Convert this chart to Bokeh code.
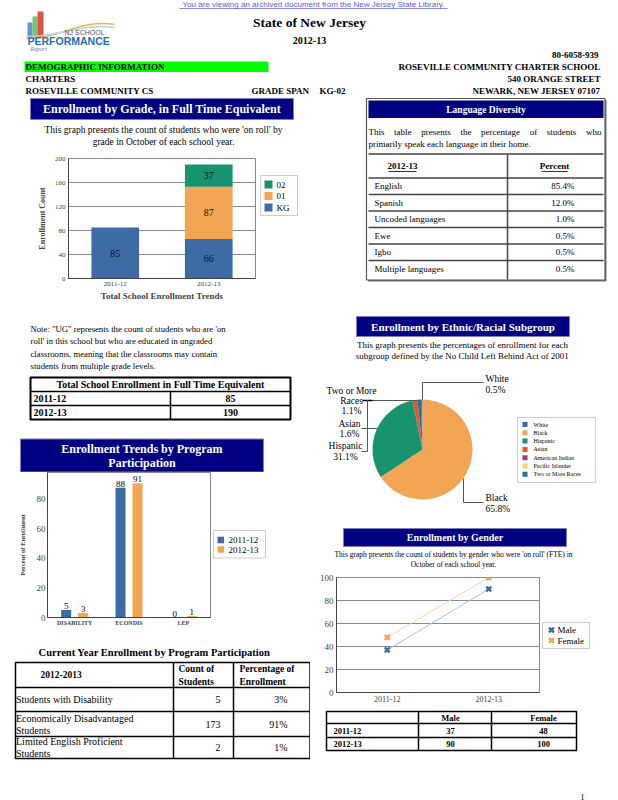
import math
from bokeh.plotting import figure
from bokeh.layouts import column, row
from bokeh.models import Range1d, FactorRange, ColumnDataSource
from bokeh.transform import dodge
from bokeh.core.properties import value
from bokeh.embed import file_html
from bokeh.resources import INLINE

SERIF = "Liberation Serif"
SANS = "Liberation Sans"
NAVY = "#000080"
BLUE = "#3d6ba4"
ORANGE = "#f2a553"
GREEN = "#17936f"

# ---------------- data ----------------
years = ["2011-12", "2012-13"]
grades = ["KG", "01", "02"]
grade_kg = [85, 66]
grade_01 = [0, 87]
grade_02 = [0, 37]
total_enrollment = [85, 190]

languages = ["English", "Spanish", "Uncoded languages", "Ewe", "Igbo", "Multiple languages"]
language_pct = [85.4, 12.0, 1.0, 0.5, 0.5, 0.5]

programs = ["DISABILITY", "ECONDIS", "LEP"]
program_2011 = [5, 88, 0]
program_2012 = [3, 91, 1]

program_names = ["Students with Disability", "Economically Disadvantaged Students",
                 "Limited English Proficient Students"]
program_counts = [5, 173, 2]
program_pct = [3, 91, 1]

ethnic_groups = ["White", "Black", "Hispanic", "Asian", "American Indian",
                 "Pacific Islander", "Two or More Races"]
ethnic_pct = [0.5, 65.8, 31.1, 1.6, 0.0, 0.0, 1.1]
ethnic_colors = [BLUE, ORANGE, GREEN, "#e4572e", "#a23b72", "#ffd45e", "#2d6e8e"]

male = [37, 90]
female = [48, 100]


# ---------------- helpers ----------------
def no_align(p):
    try:
        p.frame_align = False
    except Exception:
        pass
    return p


def deco(x0, y0, w, h):
    p = figure(width=w, height=h, x_range=Range1d(x0, x0 + w), y_range=Range1d(y0 + h, y0),
               x_axis_type=None, y_axis_type=None, output_backend="svg",
               toolbar_location=None, min_border=0)
    p.outline_line_color = None
    return no_align(p)


def T(p, x, y, s, size, bold=False, align="left", color="black", font=SERIF,
      baseline="middle", italic=False):
    style = "normal"
    if bold and italic:
        style = "bold italic"
    elif bold:
        style = "bold"
    elif italic:
        style = "italic"
    p.text(x=[x], y=[y], text=[s], text_font=value(font), text_font_size=f"{size}px",
           text_font_style=style, text_align=align, text_baseline=baseline, text_color=color)


def Q(p, l, r, t, b, fill=None, line=None, lw=1):
    p.quad(left=[l], right=[r], top=[t], bottom=[b], fill_color=fill, line_color=line,
           line_width=lw)


def S(p, x0, y0, x1, y1, color="black", lw=1):
    p.segment(x0=[x0], y0=[y0], x1=[x1], y1=[y1], line_color=color, line_width=lw)


def style_chart(p):
    p.axis.major_label_text_font = SERIF
    p.axis.axis_label_text_font = SERIF
    p.axis.axis_label_text_font_style = "bold"
    p.axis.minor_tick_line_color = None
    p.axis.major_tick_out = 0
    p.axis.major_tick_in = 0
    p.axis.axis_line_color = "#444444"
    p.outline_line_color = "#8a8a8a"
    p.xgrid.visible = False
    no_align(p)


def box_legend(p, l, r, t, b, labels, colors, ys, sq, tx, size=9, marker=False):
    Q(p, l, r, t, b, fill="white", line="#cccccc")
    for lab, col, yy in zip(labels, colors, ys):
        if marker:
            p.scatter(x=[l + 9], y=[yy], marker="x", size=7, line_width=2.5, line_color=col)
        else:
            Q(p, l + 4, l + 4 + sq, yy - sq / 2, yy + sq / 2, fill=col)
        T(p, tx, yy, lab, size)


# ---------------- header ----------------
hdr = deco(0, 0, 618, 96)
T(hdr, 313, 3.5, "You are viewing an archived document from the New Jersey State Library.", 8,
  align="center", color="#5c5ce0", font=SANS)
S(hdr, 179, 8, 447, 8, color="#5c5ce0", lw=0.7)
# logo
Q(hdr, 27, 32, 22, 37, fill="#5b9bd5")
Q(hdr, 32, 37, 16, 37, fill="#7dc36b")
Q(hdr, 37, 43, 11, 37, fill="#d9534f")
hdr.bezier(x0=[26], y0=[38], x1=[114], y1=[24], cx0=[55], cy0=[40], cx1=[80], cy1=[18],
           line_color="#f5b041", line_width=1.5)
hdr.bezier(x0=[26], y0=[36], x1=[114], y1=[27], cx0=[55], cy0=[37], cx1=[85], cy1=[22],
           line_color="#aed6f1", line_width=1.5)
T(hdr, 64, 32, "NJ SCHOOL", 7, font=SANS, color="#555555")
T(hdr, 27, 40.5, "PERFORMANCE", 10.5, bold=True, font=SANS, color="#1f6fb5")
T(hdr, 30, 48, "Report", 6, italic=True, color="#6a7fb0")
T(hdr, 309, 22, "State of New Jersey", 13.5, bold=True, align="center")
T(hdr, 309, 40, "2012-13", 10, bold=True, align="center")
T(hdr, 598, 54, "80-6058-939", 9, bold=True, align="right")
Q(hdr, 24, 268, 61, 71.5, fill="#00ff00")
T(hdr, 25, 66.5, "DEMOGRAPHIC INFORMATION", 9, bold=True)
T(hdr, 600, 66.5, "ROSEVILLE COMMUNITY CHARTER SCHOOL", 9, bold=True, align="right")
T(hdr, 25, 78.5, "CHARTERS", 9, bold=True)
T(hdr, 600, 78.5, "540 ORANGE STREET", 9, bold=True, align="right")
T(hdr, 25, 90.5, "ROSEVILLE COMMUNITY CS", 9, bold=True)
T(hdr, 251, 90.5, "GRADE SPAN", 9, bold=True)
T(hdr, 319, 90.5, "KG-02", 9, bold=True)
T(hdr, 600, 90.5, "NEWARK, NEW JERSEY 07107", 9, bold=True, align="right")

# ---------------- left column ----------------
# L1: grade title
L1 = deco(0, 96, 310, 57)
Q(L1, 30, 293, 98, 119, fill=NAVY, line="#7f7fbf")
T(L1, 161.5, 108.5, "Enrollment by Grade, in Full Time Equivalent", 12, bold=True,
  align="center", color="white")
T(L1, 163, 129, "This graph presents the count of students who were 'on roll' by", 9.5,
  align="center")
T(L1, 163, 141, "grade in October of each school year.", 9.5, align="center")

# L2: grade chart + legend
src_g = ColumnDataSource(dict(year=years, KG=grade_kg, **{"01": grade_01, "02": grade_02}))
L2c = figure(width=258, height=150, x_range=FactorRange(*years), y_range=Range1d(0, 200),
             output_backend="svg", toolbar_location=None,
             min_border_left=68, min_border_right=3, min_border_top=5, min_border_bottom=25)
rs = L2c.vbar_stack(grades, x="year", width=0.51, color=[BLUE, ORANGE, GREEN],
                    line_color=None, source=src_g)
style_chart(L2c)
L2c.yaxis.ticker = [0, 40, 80, 120, 160, 200]
L2c.ygrid.grid_line_color = "#8a8a8a"
L2c.axis.major_label_text_font_size = "7px"
L2c.axis.major_label_standoff = 3
L2c.yaxis.axis_label = "Enrollment Count"
L2c.yaxis.axis_label_text_font_size = "8px"
L2c.yaxis.axis_label_standoff = 5
L2c.xaxis.axis_label = "Total School Enrollment Trends"
L2c.xaxis.axis_label_text_font_size = "9px"
L2c.xaxis.axis_label_standoff = 2
gx, gy, gt = [], [], []
grade_vals = {"KG": grade_kg, "01": grade_01, "02": grade_02}
for i, yr in enumerate(years):
    cum = 0
    for g in grades:
        v = grade_vals[g][i]
        if v > 0:
            gx.append(yr)
            gy.append(cum + v / 2)
            gt.append(str(v))
        cum += v
L2c.text(x=gx, y=gy, text=gt, text_align="center", text_baseline="middle",
         text_font=value(SERIF), text_font_size="10px", text_color="#111111")
L2l = deco(258, 153, 52, 150)
grade_colors = {"KG": BLUE, "01": ORANGE, "02": GREEN}
leg_order = grades[::-1]
box_legend(L2l, 260, 297, 175, 215, leg_order, [grade_colors[g] for g in leg_order],
           [184, 195.5, 207], 8, 276)
L2 = row(L2c, L2l)

# L3: note + total table
L3 = deco(0, 303, 310, 129)
note = ["Note: \"UG\" represents the count of students who are 'on",
        "roll' in this school but who are educated in ungraded",
        "classrooms, meaning that the classrooms may contain",
        "students from multiple grade levels."]
for k, ln in enumerate(note):
    T(L3, 30, 328 + k * 12.5, ln, 8.7)
Q(L3, 30, 290, 377, 419, line="black", lw=2)
S(L3, 30, 391, 290, 391, lw=1.5)
S(L3, 30, 405, 290, 405, lw=1.5)
S(L3, 170, 391, 170, 419, lw=1.5)
T(L3, 160, 384, "Total School Enrollment in Full Time Equivalent", 10, bold=True, align="center")
for k, (yr, tot) in enumerate(zip(years, total_enrollment)):
    T(L3, 33, 398 + k * 14, yr, 10, bold=True)
    T(L3, 230, 398 + k * 14, str(tot), 10, bold=True, align="center")

# L4a: program title
L4a = deco(0, 432, 310, 40)
Q(L4a, 20, 263, 438.5, 471.5, fill=NAVY, line="#7f7fbf")
T(L4a, 141.5, 448.5, "Enrollment Trends by Program", 12, bold=True, align="center", color="white")
T(L4a, 141.5, 462, "Participation", 12, bold=True, align="center", color="white")

# L4b: program chart + legend
src_p = ColumnDataSource(dict(prog=programs, a=program_2011, b=program_2012,
                              la=[str(v) for v in program_2011],
                              lb=[str(v) for v in program_2012]))
L4c = figure(width=212, height=156, x_range=FactorRange(*programs), y_range=Range1d(0, 98.3),
             output_backend="svg", toolbar_location=None,
             min_border_left=47, min_border_right=2, min_border_top=0, min_border_bottom=11)
ra = L4c.vbar(x=dodge("prog", -0.156, range=L4c.x_range), top="a", width=0.184, source=src_p,
              fill_color=BLUE, line_color=None)
rb = L4c.vbar(x=dodge("prog", 0.156, range=L4c.x_range), top="b", width=0.184, source=src_p,
              fill_color=ORANGE, line_color=None)
L4c.text(x=dodge("prog", -0.156, range=L4c.x_range), y="a", text="la", source=src_p,
         text_align="center", text_baseline="bottom", y_offset=-1,
         text_font=value(SERIF), text_font_size="9px")
L4c.text(x=dodge("prog", 0.156, range=L4c.x_range), y="b", text="lb", source=src_p,
         text_align="center", text_baseline="bottom", y_offset=-1,
         text_font=value(SERIF), text_font_size="9px")
style_chart(L4c)
L4c.ygrid.visible = False
L4c.yaxis.ticker = [0, 20, 40, 60, 80]
L4c.yaxis.major_label_text_font_size = "9px"
L4c.yaxis.major_label_standoff = 2
L4c.xaxis.major_label_text_font_size = "6px"
L4c.xaxis.major_label_text_font_style = "bold"
L4c.xaxis.major_label_standoff = 2
L4c.yaxis.axis_label = "Percent of Enrollment"
L4c.yaxis.axis_label_text_font_size = "6.5px"
L4c.yaxis.axis_label_standoff = 8
L4l = deco(212, 472, 98, 156)
box_legend(L4l, 213, 265, 530, 557.5, years, [BLUE, ORANGE], [539.5, 549], 6.5, 228)
L4b = row(L4c, L4l)

# L5: current year table
L5 = deco(0, 628, 310, 172)
T(L5, 154, 652, "Current Year Enrollment by Program Participation", 10.5, bold=True, align="center")
Q(L5, 15, 309.5, 662, 758, line="black", lw=1.5)
for yy in [687, 711, 736]:
    S(L5, 15, yy, 309.5, yy, lw=1.5)
S(L5, 173, 662, 173, 758, lw=1.5)
S(L5, 233, 662, 233, 758, lw=1.5)
T(L5, 40, 674, "2012-2013", 9.5, bold=True)
T(L5, 178, 668, "Count of", 9.5, bold=True)
T(L5, 178, 681, "Students", 9.5, bold=True)
T(L5, 239, 668, "Percentage of", 9.5, bold=True)
T(L5, 239, 681, "Enrollment", 9.5, bold=True)
row_tops = [687, 711, 736]
row_bots = [711, 736, 758]
for k, (nm, cnt, pc) in enumerate(zip(program_names, program_counts, program_pct)):
    mid = (row_tops[k] + row_bots[k]) / 2
    if len(nm) > 26:
        a, b = nm.rsplit(" ", 1)
        T(L5, 15.5, mid - 6, a, 10)
        T(L5, 15.5, mid + 6, b, 10)
    else:
        T(L5, 15.5, mid, nm, 10)
    T(L5, 220, mid, str(cnt), 10, align="right")
    T(L5, 287, mid, f"{pc}%", 10, align="right")

left = column(L1, L2, L3, L4a, L4b, L5)

# ---------------- right column ----------------
# R1: language diversity
R1 = deco(310, 96, 308, 204)
Q(R1, 367.5, 606, 99.5, 281, fill="#777777", line=None)
Q(R1, 366, 604.5, 98, 279.5, fill="white", line="#555555", lw=1.2)
Q(R1, 368, 603, 100, 117.5, fill=NAVY)
T(R1, 485.5, 109, "Language Diversity", 9.5, bold=True, align="center", color="white")
words = "This table presents the percentage of students who".split()
wx = [368, 393.6, 420.8, 459.9, 480.5, 529.2, 546.3, 585.5]
for wd, x in zip(words, wx):
    T(R1, x, 131, wd, 9)
T(R1, 368, 143, "primarily speak each language in their home.", 9)
S(R1, 368, 153.5, 603, 153.5, color="#444444", lw=1.5)
row_lines = [177.5, 194, 210.5, 227, 243.5, 260]
for yy in row_lines:
    S(R1, 368, yy, 603, yy, color="#444444", lw=1.5)
S(R1, 507, 153.5, 507, 279, color="#444444", lw=1.5)
T(R1, 402, 165.5, "2012-13", 9, bold=True, align="center")
S(R1, 388, 171, 416, 171, lw=0.8)
T(R1, 554, 165.5, "Percent", 9, bold=True, align="center")
S(R1, 541, 171, 567, 171, lw=0.8)
for k, (lang, pc) in enumerate(zip(languages, language_pct)):
    yc = 185.5 + k * 16.6
    T(R1, 374, yc, lang, 9)
    T(R1, 574, yc, f"{pc:.1f}%", 9, align="right")

# R2: ethnic pie
R2 = deco(310, 300, 308, 212)
Q(R2, 356, 569, 316, 336, fill=NAVY, line="#7f7fbf")
T(R2, 462.5, 326.5, "Enrollment by Ethnic/Racial Subgroup", 11, bold=True, align="center",
  color="white")
T(R2, 462, 344, "This graph presents the percentages of enrollment for each", 9, align="center")
T(R2, 462, 355.5, "subgroup defined by the No Child Left Behind Act of 2001", 9, align="center")
cx, cy, rad = 422, 449, 50
tot = sum(ethnic_pct)
a_start = math.pi / 2 + 2 * math.pi * ethnic_pct[0] / tot
cum = 0.0
ws, we, wc = [], [], []
for v, col in zip(ethnic_pct, ethnic_colors):
    a0 = a_start - 2 * math.pi * cum / tot
    cum += v
    a1 = a_start - 2 * math.pi * cum / tot
    if v > 0:
        ws.append(a0)
        we.append(a1)
        wc.append(col)
R2.wedge(x=[cx] * len(ws), y=[cy] * len(ws), radius=rad, start_angle=ws, end_angle=we,
         direction="clock", fill_color=wc, line_color=None)
LC = "#555555"
S(R2, 422, 399, 422, 382, color=LC)
S(R2, 422, 382, 483, 382, color=LC)
S(R2, 367, 400, 418, 400, color=LC)
S(R2, 362, 400, 372, 400, color="black", lw=1.5)
S(R2, 367, 400, 367, 451, color=LC)
S(R2, 361, 428, 377, 428, color=LC)
S(R2, 361, 451, 367, 451, color=LC)
S(R2, 463, 478, 463, 502, color=LC)
S(R2, 463, 502, 483, 502, color=LC)
pct = dict(zip(ethnic_groups, ethnic_pct))
T(R2, 485, 378, "White", 9.5)
T(R2, 485, 389, f"{pct['White']}%", 9.5)
T(R2, 351, 390, "Two or More", 9.5, align="center")
T(R2, 351, 400, "Races", 9.5, align="center")
T(R2, 351, 410.5, f"{pct['Two or More Races']}%", 9.5, align="center")
T(R2, 349, 423, "Asian", 9.5, align="center")
T(R2, 349, 433.5, f"{pct['Asian']}%", 9.5, align="center")
T(R2, 345, 445, "Hispanic", 9.5, align="center")
T(R2, 345, 456, f"{pct['Hispanic']}%", 9.5, align="center")
T(R2, 485, 497, "Black", 9.5)
T(R2, 485, 508, f"{pct['Black']}%", 9.5)
Q(R2, 517, 595, 417, 482, fill="white", line="#cccccc")
for k, (nm, col) in enumerate(zip(ethnic_groups, ethnic_colors)):
    yy = 424 + k * 8.3
    Q(R2, 522, 527, yy - 2.5, yy + 2.5, fill=col, line=None)
    T(R2, 533, yy, nm, 6)

# R3a: gender title
R3a = deco(310, 512, 308, 59)
Q(R3a, 343, 566, 528, 546, fill=NAVY, line="#7f7fbf")
T(R3a, 454.5, 537, "Enrollment by Gender", 10, bold=True, align="center", color="white")
T(R3a, 453, 554, "This graph presents the count of students by gender who were 'on roll' (FTE) in",
  7.5, align="center")
T(R3a, 453, 564, "October of each school year.", 7.5, align="center")

# R3b: gender chart + legend
src_s = ColumnDataSource(dict(year=years, male=male, female=female))
R3g = figure(width=231, height=135, x_range=FactorRange(*years), y_range=Range1d(0, 100),
             output_backend="svg", toolbar_location=None,
             min_border_left=26, min_border_right=2, min_border_top=6, min_border_bottom=14)
R3g.line(x="year", y="male", source=src_s, line_color="#a9c1e0", line_width=1)
R3g.line(x="year", y="female", source=src_s, line_color="#fcd0a0", line_width=1)
R3g.scatter(x="year", y="male", source=src_s, marker="x", size=7, line_width=2.5,
            line_color=BLUE)
R3g.scatter(x="year", y="female", source=src_s, marker="x", size=7, line_width=2.5,
            line_color=ORANGE)
style_chart(R3g)
R3g.yaxis.ticker = [0, 20, 40, 60, 80, 100]
R3g.ygrid.grid_line_color = "#8a8a8a"
R3g.axis.major_label_text_font_size = "9px"
R3g.xaxis.major_label_text_font_size = "8px"
R3g.axis.major_label_standoff = 3
R3l = deco(541, 571, 77, 135)
box_legend(R3l, 542, 589, 622, 648, ["Male", "Female"], [BLUE, ORANGE], [629.5, 640], 7, 557,
           marker=True)
R3b = row(R3g, R3l)

# R3c: gender table
R3c = deco(310, 706, 308, 94)
Q(R3c, 326, 576, 711, 750, line="black", lw=1.5)
S(R3c, 326, 723, 576, 723, lw=1.5)
S(R3c, 326, 737, 576, 737, lw=1.5)
S(R3c, 418, 711, 418, 750, lw=1.5)
S(R3c, 491, 711, 491, 750, lw=1.5)
T(R3c, 450, 717, "Male", 8.5, bold=True, align="center")
T(R3c, 543, 717, "Female", 8.5, bold=True, align="center")
for k, (yr, m, f) in enumerate(zip(years, male, female)):
    yc = 730 + k * 13.5
    T(R3c, 333, yc, yr, 8.5, bold=True)
    T(R3c, 450, yc, str(m), 8.5, bold=True, align="center")
    T(R3c, 543, yc, str(f), 8.5, bold=True, align="center")
T(R3c, 580, 796, "1", 8)

right = column(R1, R2, R3a, R3b, R3c)

page = column(hdr, row(left, right))

open("out.html", "w").write(file_html(page, INLINE))
